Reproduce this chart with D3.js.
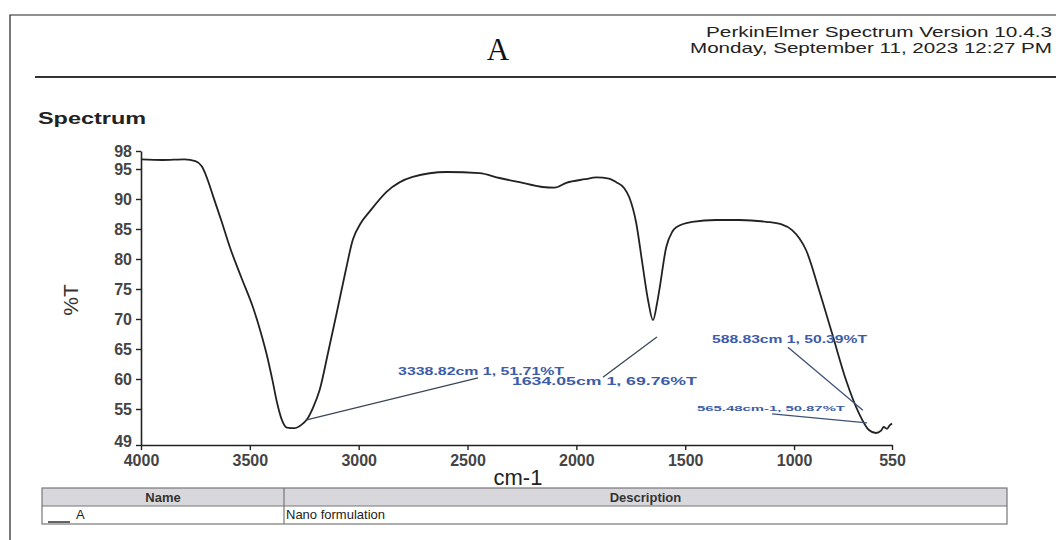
<!DOCTYPE html>
<html lang="en">
<head>
    <meta charset="UTF-8">
    <title>Spectrum</title>
    <script src="https://cdnjs.cloudflare.com/ajax/libs/d3/7.8.5/d3.min.js"></script>
    <style>
        * { margin: 0; padding: 0; box-sizing: border-box; }
        body { background: #fff; font-family: "Liberation Sans", Arial, sans-serif; }
        #chart { width: 1056px; height: 540px; }
    </style>
</head>
<body>
    <div id="chart"></div>
    <script>
        // spectrum (cm-1, %T)
        const wavenumbers = [4000, 3900, 3800, 3750, 3720, 3690, 3670, 3630, 3592, 3540, 3486, 3450, 3422, 3395, 3376, 3355, 3330,
            3295, 3262, 3239, 3210, 3179, 3140, 3101, 3060, 3027, 2990, 2950, 2872, 2752, 2596, 2445, 2353, 2261, 2156, 2100,
            2046, 1960, 1908, 1850, 1817, 1780, 1757, 1725, 1697, 1670, 1648, 1630, 1619, 1587, 1560, 1541, 1468, 1358, 1250,
            1128, 1060, 1009, 975, 945, 885, 826, 761, 702, 656, 624, 600, 588, 573, 560, 550];
        const transmittance = [96.6, 96.5, 96.6, 96.3, 95.4, 92.8, 90.6, 86.3, 82.0, 77.0, 72.0, 67.8, 64.0, 59.6, 56.2, 53.4, 51.9,
            51.8, 52.4, 53.2, 55.2, 58.2, 64.5, 71.0, 78.0, 83.2, 86.0, 87.9, 91.2, 93.7, 94.5, 94.3, 93.5, 92.8, 92.0, 91.9,
            92.7, 93.3, 93.6, 93.4, 92.8, 91.8, 90.3, 86.0, 79.3, 73.0, 69.8, 72.5, 74.8, 82.0, 84.5, 85.3, 86.2, 86.5, 86.5,
            86.2, 85.8, 84.8, 83.4, 81.5, 74.8, 67.7, 59.8, 54.3, 51.5, 51.0, 51.4, 52.0, 51.7, 52.3, 52.6];

        const yTicks = [98, 95, 90, 85, 80, 75, 70, 65, 60, 55, 49];
        const xTicks = [4000, 3500, 3000, 2500, 2000, 1500, 1000, 550];

        // peak labels: text, the point the leader starts from, where it ends, where the text sits (all in cm-1 / %T)
        const peakLabels = ['3338.82cm 1, 51.71%T', '1634.05cm 1, 69.76%T', '588.83cm 1, 50.39%T', '565.48cm-1, 50.87%T'];
        const leaderFrom = [[3239, 53.2], [1630, 67.0], [684, 54.8], [665, 52.7]];
        const leaderTo = [[2452, 60.2], [1878, 60.3], [1028, 65.3], [1101, 54.2]];
        const labelAt = [[2819, 60.6], [2296, 59.0], [1377, 66.0], [1446, 54.7]];

        const tableHeads = ['Name', 'Description'];
        const tableRow = ['A', 'Nano formulation'];

        const width = 1056, height = 540;
        const svg = d3.select('#chart').append('svg')
            .attr('width', width)
            .attr('height', height);

        svg.append('rect').attr('width', width).attr('height', height).attr('fill', '#fff');

        // page frame
        svg.append('path').attr('d', 'M10,540 V15 H1056').attr('fill', 'none').attr('stroke', '#222').attr('stroke-width', 1.2);
        svg.append('line').attr('x1', 35).attr('x2', 1056).attr('y1', 77).attr('y2', 77)
            .attr('stroke', '#333').attr('stroke-width', 2.2);

        // header
        svg.append('text').attr('x', 498).attr('y', 60).attr('text-anchor', 'middle')
            .style('font-family', '"Liberation Serif", "DejaVu Serif", serif').style('font-size', '31px')
            .attr('fill', '#111').text('A');
        svg.append('text').attr('x', 1052).attr('y', 37).attr('text-anchor', 'end')
            .attr('textLength', 346).attr('lengthAdjust', 'spacingAndGlyphs')
            .style('font-size', '15px').attr('fill', '#222').text('PerkinElmer Spectrum Version 10.4.3');
        svg.append('text').attr('x', 1052).attr('y', 53).attr('text-anchor', 'end')
            .attr('textLength', 362).attr('lengthAdjust', 'spacingAndGlyphs')
            .style('font-size', '15px').attr('fill', '#222').text('Monday, September 11, 2023 12:27 PM');

        svg.append('text').attr('x', 38).attr('y', 124)
            .style('font-size', '16px').style('font-weight', 'bold').attr('fill', '#222')
            .attr('textLength', 108).attr('lengthAdjust', 'spacingAndGlyphs')
            .text('Spectrum');

        // scales
        const x = d3.scaleLinear().domain([4000, 550]).range([141, 892]);
        const y = d3.scaleLinear().domain([49, 98]).range([445, 151]);

        const yAxis = svg.append('g')
            .attr('transform', 'translate(141,0)')
            .call(d3.axisLeft(y).tickValues(yTicks).tickFormat(d3.format('d'))
                .tickSize(5).tickSizeOuter(0).tickPadding(4));
        const xAxis = svg.append('g')
            .attr('transform', 'translate(0,445)')
            .call(d3.axisBottom(x).tickValues(xTicks).tickFormat(d3.format('d'))
                .tickSize(5).tickSizeOuter(0).tickPadding(5));

        [yAxis, xAxis].forEach(a => {
            a.select('.domain').attr('stroke', '#222').attr('stroke-width', 1.6);
            a.selectAll('.tick line').attr('stroke', '#222').attr('stroke-width', 1.4);
            a.selectAll('.tick text')
                .style('font-family', '"Liberation Sans", Arial, sans-serif')
                .style('font-size', '16px').style('font-weight', 'bold')
                .attr('fill', '#444');
        });
        xAxis.selectAll('.tick text').style('font-size', '16px');
        // the lowest %T label sits just above the corner, as in the print
        yAxis.selectAll('.tick text').filter(d => d === 49).attr('dy', '0.1em');

        // axis titles
        svg.append('text').attr('transform', 'translate(78,300) rotate(-90)').attr('text-anchor', 'middle')
            .style('font-size', '21px').attr('fill', '#333').text('%T');
        svg.append('text').attr('x', 518).attr('y', 485).attr('text-anchor', 'middle')
            .style('font-size', '22px').attr('fill', '#222').text('cm-1');

        // spectrum line
        const pts = wavenumbers.map((w, i) => [w, transmittance[i]]);
        const line = d3.line()
            .x(d => x(d[0]))
            .y(d => y(d[1]))
            .curve(d3.curveMonotoneX);
        svg.append('path')
            .datum(pts)
            .attr('d', line)
            .attr('fill', 'none')
            .attr('stroke', '#222')
            .attr('stroke-width', 1.8);

        // peak labels
        peakLabels.forEach((t, i) => {
            svg.append('line')
                .attr('x1', x(leaderFrom[i][0])).attr('y1', y(leaderFrom[i][1]))
                .attr('x2', x(leaderTo[i][0])).attr('y2', y(leaderTo[i][1]))
                .attr('stroke', i < 2 ? '#3a4658' : '#3d5278').attr('stroke-width', 1.3);
            const small = i === 3;
            svg.append('text')
                .attr('x', x(labelAt[i][0])).attr('y', y(labelAt[i][1]))
                .attr('textLength', small ? 148 : (i === 2 ? 155 : (i === 1 ? 185 : 166)))
                .attr('lengthAdjust', 'spacingAndGlyphs')
                .style('font-size', small ? '8px' : '11px').style('font-weight', 'bold')
                .attr('fill', '#3b5ca8').text(t);
        });

        // name / description table
        const tbl = svg.append('g');
        const cols = [42, 284, 1007];
        const rows = [488, 506, 524];
        tbl.append('rect').attr('x', cols[0]).attr('y', rows[0]).attr('width', cols[2] - cols[0]).attr('height', rows[1] - rows[0])
            .attr('fill', '#d8d8dc');
        tbl.append('rect').attr('x', cols[0]).attr('y', rows[0]).attr('width', cols[2] - cols[0]).attr('height', rows[2] - rows[0])
            .attr('fill', 'none').attr('stroke', '#777').attr('stroke-width', 1.2);
        tbl.append('line').attr('x1', cols[0]).attr('x2', cols[2]).attr('y1', rows[1]).attr('y2', rows[1])
            .attr('stroke', '#777').attr('stroke-width', 1.2);
        tbl.append('line').attr('x1', cols[1]).attr('x2', cols[1]).attr('y1', rows[0]).attr('y2', rows[2])
            .attr('stroke', '#777').attr('stroke-width', 1.2);
        tableHeads.forEach((h, i) => {
            tbl.append('text').attr('x', (cols[i] + cols[i + 1]) / 2).attr('y', rows[1] - 4)
                .attr('text-anchor', 'middle').style('font-size', '13px').style('font-weight', 'bold')
                .attr('fill', '#333').text(h);
        });
        tbl.append('line').attr('x1', 48).attr('x2', 70).attr('y1', rows[2] - 2).attr('y2', rows[2] - 2)
            .attr('stroke', '#222').attr('stroke-width', 1.4);
        tbl.append('text').attr('x', 76).attr('y', rows[2] - 5).style('font-size', '13px').attr('fill', '#222').text(tableRow[0]);
        tbl.append('text').attr('x', cols[1] + 2).attr('y', rows[2] - 5).style('font-size', '13px').attr('fill', '#222').text(tableRow[1]);
    </script>
</body>
</html>
